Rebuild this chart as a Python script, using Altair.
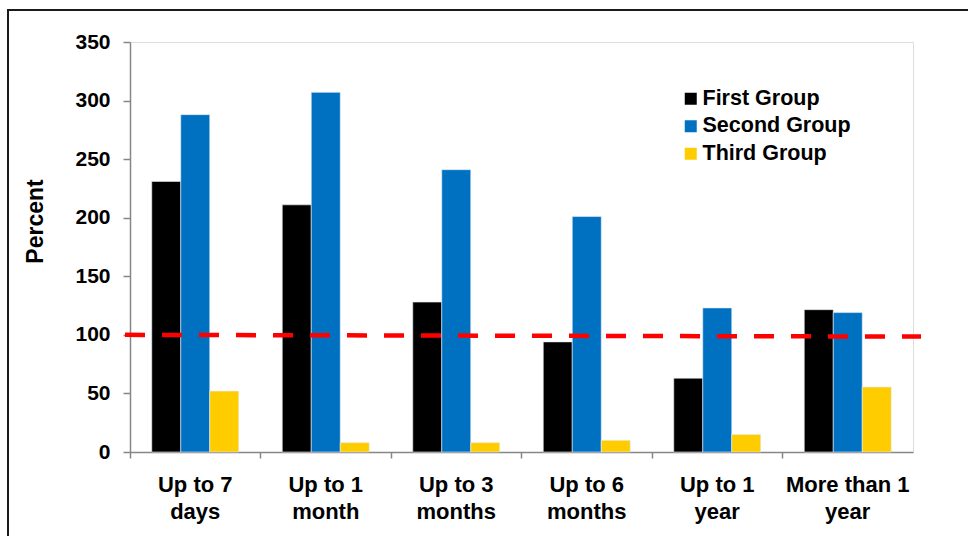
import altair as alt
import pandas as pd

# Categories (line breaks mark where the axis labels wrap)
categories = ["Up to 7\ndays", "Up to 1\nmonth", "Up to 3\nmonths",
              "Up to 6\nmonths", "Up to 1\nyear", "More than 1\nyear"]
groups = ["First Group", "Second Group", "Third Group"]
colors = ["#000000", "#0070C0", "#FFCC00"]

first_group = [231, 211, 128, 94, 63, 121.5]
second_group = [288, 307, 241, 201, 123, 119]
third_group = [52, 8, 8, 10, 15, 55.5]

# Reference level drawn as a dashed red line
ref_start = 100
ref_end = 98.5

y_ticks = [0, 50, 100, 150, 200, 250, 300, 350]

rows = []
for g, vals in zip(groups, [first_group, second_group, third_group]):
    for c, v in zip(categories, vals):
        rows.append({"category": c, "group": g, "value": v})
df = pd.DataFrame(rows)

W, H = 783, 410
FONT = "Liberation Sans"
AXIS_GREY = "#868686"

bars = alt.Chart(df).mark_bar(stroke="#e8eef8", strokeWidth=0.6).encode(
    x=alt.X("category:N", sort=categories,
            scale=alt.Scale(paddingInner=0, paddingOuter=0),
            axis=alt.Axis(title=None, labelAngle=0, bandPosition=0,
                          labelExpr="split(datum.label, '\\n')",
                          labelFont=FONT, labelFontSize=22, labelFontWeight="bold",
                          labelColor="#000000", labelPadding=16, labelLineHeight=27,
                          labelBaseline="top",
                          tickSize=6, tickColor=AXIS_GREY, tickWidth=1.5,
                          domainColor=AXIS_GREY, domainWidth=1.5)),
    xOffset=alt.XOffset("group:N", sort=groups,
                        scale=alt.Scale(paddingInner=0, paddingOuter=0.75)),
    y=alt.Y("value:Q",
            scale=alt.Scale(domain=[0, 350], nice=False),
            axis=alt.Axis(title="Percent", values=y_ticks, grid=False,
                          labelFont=FONT, labelFontSize=21, labelFontWeight="bold",
                          labelColor="#000000", labelPadding=13,
                          tickSize=7, tickColor=AXIS_GREY, tickWidth=1.5,
                          domainColor=AXIS_GREY, domainWidth=1.5,
                          titleFont=FONT, titleFontSize=23, titleFontWeight="bold",
                          titleColor="#000000", titleX=-95, titleY=179,
                          titleAlign="center", titleBaseline="middle")),
    color=alt.Color("group:N", sort=groups,
                    scale=alt.Scale(domain=groups, range=colors),
                    legend=alt.Legend(title=None, orient="none", legendX=550, legendY=46,
                                      symbolType="square", symbolSize=144,
                                      symbolStrokeWidth=0, labelOffset=1,
                                      labelFont=FONT, labelFontSize=21.5,
                                      labelFontWeight="bold", labelColor="#000000",
                                      rowPadding=4.5)),
)

ref = alt.Chart(pd.DataFrame({"start": [ref_start], "end": [ref_end]})).mark_rule(
    color="#FF0000", strokeWidth=4.5, strokeDash=[20, 17], clip=False
).encode(
    y="start:Q",
    y2="end:Q",
    x=alt.value(-5),
    x2=alt.value(W + 8),
)

# Outer frame around the figure
frame = alt.Chart(pd.DataFrame({"f": [0]})).mark_rect(
    fill=None, fillOpacity=0, stroke="#1a1a1a", strokeWidth=2, clip=False
).encode(
    x=alt.value(-122), x2=alt.value(W + 120),
    y=alt.value(-32), y2=alt.value(H + 150),
)

chart = alt.layer(frame, bars, ref).properties(
    width=W, height=H,
    autosize=alt.AutoSizeParams(type="none"),
    padding={"left": 130, "top": 42, "right": 55, "bottom": 84},
).configure_view(
    stroke=AXIS_GREY, strokeWidth=1.5
).configure(background="#ffffff")

chart.save("out.html", embed_options={"renderer": "svg", "actions": False})
